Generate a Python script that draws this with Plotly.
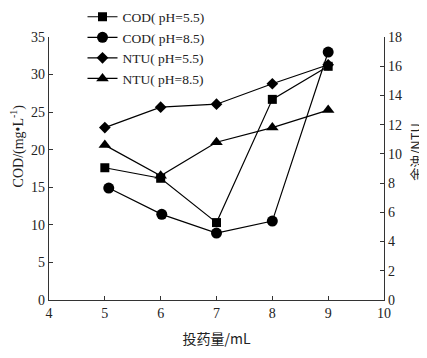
import plotly.graph_objects as go

x_cod55 = [5, 6, 7, 8, 9]
cod55 = [17.6, 16.2, 10.3, 26.7, 31.1]
x_cod85 = [5.07, 6.02, 7.0, 8.0, 9.0]
cod85 = [14.9, 11.4, 8.9, 10.5, 33.0]
x_ntu = [5, 6, 7, 8, 9]
ntu55 = [11.8, 13.2, 13.4, 14.8, 16.1]
ntu85 = [10.6, 8.5, 10.8, 11.8, 13.0]

serif = "Liberation Serif, Times New Roman, serif"
cjk = "Noto Sans CJK SC, " + serif
font = dict(family=serif, size=14, color="#222")

fig = go.Figure()
fig.add_trace(go.Scatter(x=x_cod55, y=cod55, name="COD( pH=5.5)", mode="lines+markers",
                         line=dict(color="black", width=1.2),
                         marker=dict(symbol="square", size=9, color="black")))
fig.add_trace(go.Scatter(x=x_cod85, y=cod85, name="COD( pH=8.5)", mode="lines+markers",
                         line=dict(color="black", width=1.2),
                         marker=dict(symbol="circle", size=11, color="black")))
fig.add_trace(go.Scatter(x=x_ntu, y=ntu55, name="NTU( pH=5.5)", mode="lines+markers",
                         line=dict(color="black", width=1.2), yaxis="y2",
                         marker=dict(symbol="diamond", size=9, color="black")))
fig.add_trace(go.Scatter(x=x_ntu, y=ntu85, name="NTU( pH=8.5)", mode="lines+markers",
                         line=dict(color="black", width=1.2), yaxis="y2",
                         marker=dict(symbol="triangle-up", size=11, color="black")))

fig.update_layout(
    width=427, height=358,
    margin=dict(l=41, r=51, t=29, b=66, autoexpand=False),
    paper_bgcolor="white", plot_bgcolor="white",
    font=font,
    showlegend=True,
    legend=dict(x=0.1, y=1.135, xanchor="left", yanchor="top",
                bgcolor="rgba(0,0,0,0)", font=dict(family=serif, size=13.5),
                tracegroupgap=0, itemwidth=30),
    xaxis=dict(range=[4, 10], dtick=1, showline=True, linecolor="#333", linewidth=1.2,
               ticks="inside", ticklen=4, tickcolor="#333", showgrid=False, zeroline=False,
               title=dict(text="投药量/mL", font=dict(family=cjk, size=14), standoff=14)),
    yaxis=dict(range=[0, 35], dtick=5, showline=True, linecolor="#333", linewidth=1.2,
               ticks="inside", ticklen=4, tickcolor="#333", showgrid=False, zeroline=False),
    yaxis2=dict(range=[0, 18], dtick=2, overlaying="y", side="right", showline=True,
                linecolor="#333", linewidth=1.2, ticks="inside", ticklen=4, tickcolor="#333",
                showgrid=False, zeroline=False),
    annotations=[
        dict(text="COD/(mg•L<sup>-1</sup>)", xref="paper", yref="paper", x=-0.094, y=0.586,
             textangle=-90, showarrow=False, font=dict(family=serif, size=14),
             xanchor="center", yanchor="middle"),
        dict(text="余浊/NTU", xref="paper", yref="paper", x=1.095, y=0.563,
             textangle=-90, showarrow=False, font=dict(family=cjk, size=13),
             xanchor="center", yanchor="middle"),
    ],
)

fig.write_html("out.html")
